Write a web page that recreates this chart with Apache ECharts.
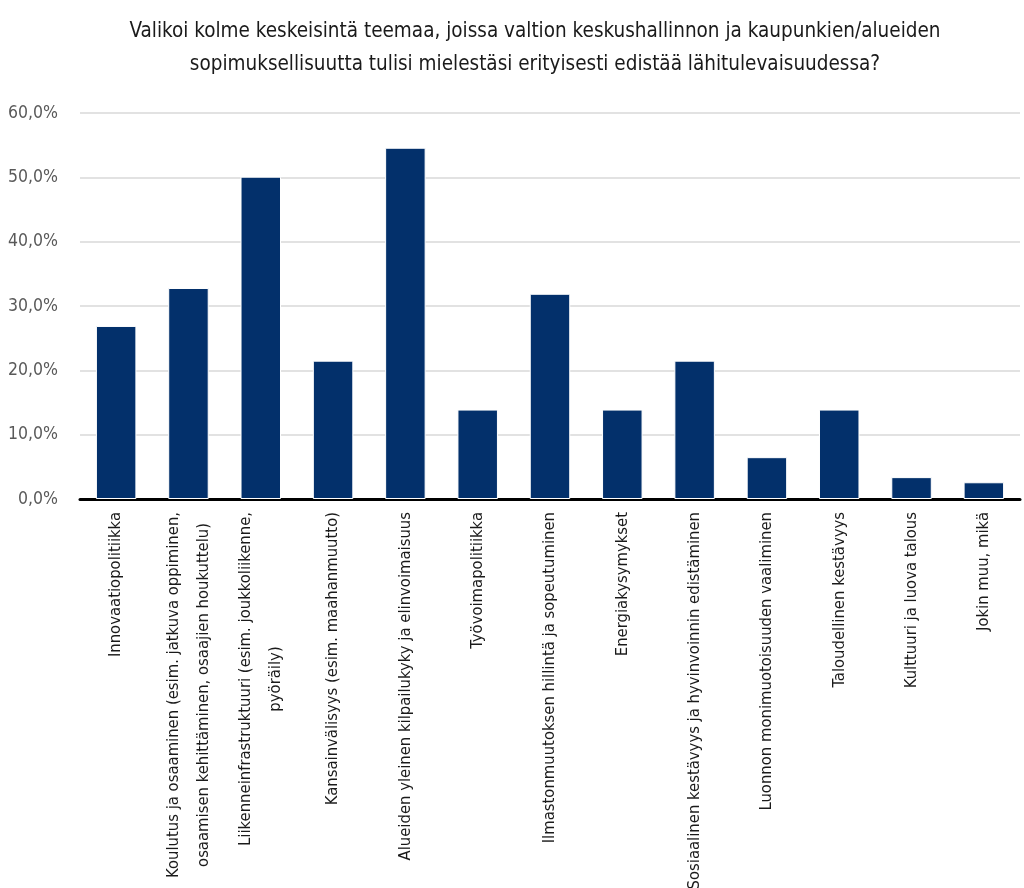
<!DOCTYPE html>
<html>
<head>
<meta charset="utf-8">
<script src="https://cdn.jsdelivr.net/npm/echarts@6/dist/echarts.min.js"></script>
<style>
  html, body { margin: 0; padding: 0; background: #fff; }
  #chart { width: 1024px; height: 888px; }
</style>
</head>
<body>
<div id="chart"></div>
<script>
  var FONT = '"Liberation Sans Narrow", "DejaVu Sans Condensed", "Noto Sans", sans-serif';

  var titleLines = [
    'Valikoi kolme keskeisintä teemaa, joissa valtion keskushallinnon ja kaupunkien/alueiden',
    'sopimuksellisuutta tulisi mielestäsi erityisesti edistää lähitulevaisuudessa?'
  ];

  var categories = [
    'Innovaatiopolitiikka',
    'Koulutus ja osaaminen (esim. jatkuva oppiminen,\nosaamisen kehittäminen, osaajien houkuttelu)',
    'Liikenneinfrastruktuuri (esim. joukkoliikenne,\npyöräily)',
    'Kansainvälisyys (esim. maahanmuutto)',
    'Alueiden yleinen kilpailukyky ja elinvoimaisuus',
    'Työvoimapolitiikka',
    'Ilmastonmuutoksen hillintä ja sopeutuminen',
    'Energiakysymykset',
    'Sosiaalinen kestävyys ja hyvinvoinnin edistäminen',
    'Luonnon monimuotoisuuden vaaliminen',
    'Taloudellinen kestävyys',
    'Kulttuuri ja luova talous',
    'Jokin muu, mikä'
  ];

  // osuus vastaajista, %
  var values = [26.9, 32.8, 50.1, 21.5, 54.6, 13.9, 31.9, 13.9, 21.5, 6.5, 13.9, 3.4, 2.6];

  var yMin = 0;
  var yMax = 60;
  var yStep = 10;

  var myChart = echarts.init(document.getElementById('chart'));

  myChart.setOption({
    backgroundColor: '#ffffff',
    animation: false,
    title: {
      text: titleLines.join('\n'),
      left: 530,
      textAlign: 'center',
      top: 10,
      textStyle: {
        fontFamily: FONT,
        fontSize: 20.5,
        fontWeight: 'normal',
        color: '#1a1a1a',
        lineHeight: 33
      }
    },
    grid: {
      left: 80,
      right: 4,
      top: 113,
      bottom: 389,
      outerBoundsMode: 'none'
    },
    xAxis: {
      type: 'category',
      data: categories,
      axisLine: { lineStyle: { color: '#000', width: 3 } },
      axisTick: { show: false },
      axisLabel: {
        interval: 0,
        rotate: 90,
        margin: 13,
        fontFamily: FONT,
        fontSize: 16.5,
        color: '#1a1a1a',
        lineHeight: 30,
        formatter: function (v) {
          return v.split('\n').map(function (l) { return '{c|' + l + '}'; }).join('\n');
        },
        rich: {
          c: {
            align: 'center',
            fontFamily: FONT,
            fontSize: 16.5,
            lineHeight: 30,
            color: '#1a1a1a'
          }
        }
      }
    },
    yAxis: {
      type: 'value',
      min: yMin,
      max: yMax,
      interval: yStep,
      axisLine: { show: false },
      axisTick: { show: false },
      splitLine: { lineStyle: { color: '#d9d9d9', width: 1.5 } },
      axisLabel: {
        margin: 22,
        fontFamily: FONT,
        fontSize: 17.5,
        color: '#595959',
        formatter: function (v) { return v.toFixed(1).replace('.', ',') + '%'; }
      }
    },
    series: [
      {
        type: 'bar',
        data: values,
        barWidth: '56%',
        itemStyle: {
          color: '#03306b',
          borderColor: '#ffffff',
          borderWidth: 1
        }
      }
    ]
  });
</script>
</body>
</html>
